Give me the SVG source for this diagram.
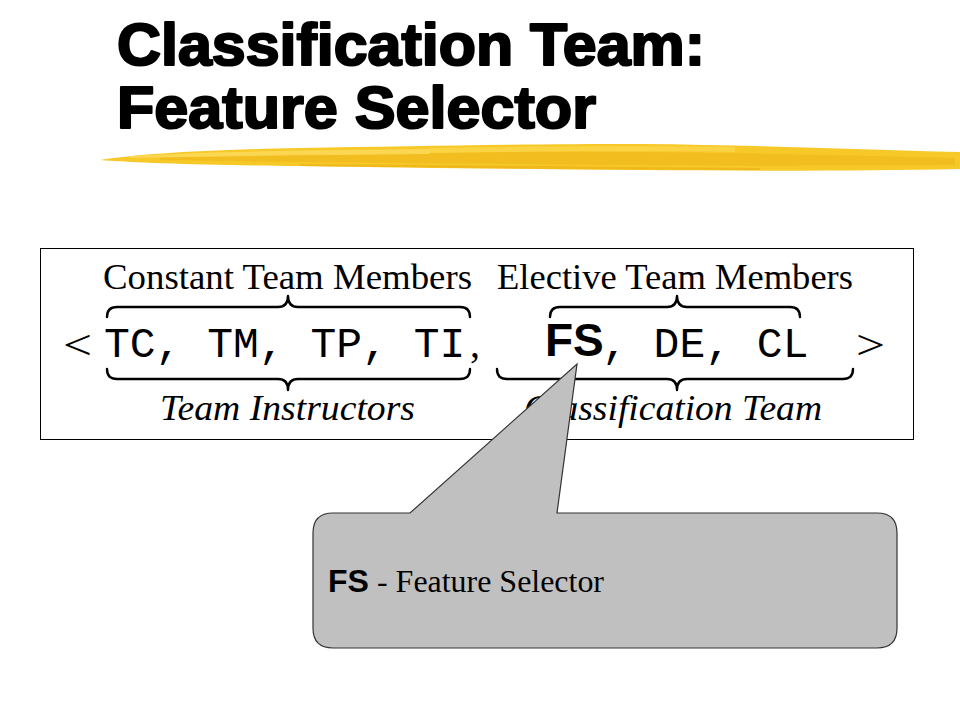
<svg xmlns="http://www.w3.org/2000/svg" width="960" height="720" viewBox="0 0 960 720">
<style>
.title{font-family:"Liberation Sans",Arial,sans-serif;font-weight:bold;font-size:59px;fill:#000;stroke:#000;stroke-width:2.2;stroke-linejoin:round}
.serif{font-family:"Liberation Serif","Times New Roman",serif;fill:#000}
.mono{font-family:"Liberation Mono","Courier New",monospace;fill:#000}
.sans{font-family:"Liberation Sans",Arial,sans-serif;font-weight:bold;fill:#000}
.brace{fill:none;stroke:#000;stroke-width:2.4;stroke-linecap:round;stroke-linejoin:round}
</style>
<rect width="960" height="720" fill="#fff"/>
<g id="title">
<text class="title" x="117" y="65" textLength="588" lengthAdjust="spacingAndGlyphs">Classification Team:</text>
<text class="title" x="117" y="128" textLength="479" lengthAdjust="spacingAndGlyphs">Feature Selector</text>
</g>
<g id="brush">
<path d="M100,160 C140,154 200,150 300,148 C420,146 520,144 640,144 C760,145 860,150 960,152 L960,169 C860,171 760,171 640,170 C520,169 420,168 300,166 C200,165 140,163 100,160 Z" fill="#f7c928"/>
<path d="M160,157 C260,154 400,153 520,152 C640,151 800,154 955,158 L955,165 C800,166 640,166 520,164 C400,163 260,162 160,160 Z" fill="#efb81a" opacity="0.7"/>
<path d="M130,156 C220,151 330,150 430,149 L430,154 C330,155 220,156 130,158 Z" fill="#fbdb5c" opacity="0.8"/>
<path d="M430,148 C560,146 650,146 735,147 L735,152 C650,151 560,151 430,153 Z" fill="#fbd64a" opacity="0.8"/>
<path d="M300,164 C450,165 600,167 760,168 L760,170 C600,170 450,168 300,166 Z" fill="#e9ad12" opacity="0.6"/>
</g>
<g id="formula">
<rect x="40.5" y="248.5" width="873" height="191" fill="#fff" stroke="#000" stroke-width="1"/>
<text class="serif" x="103" y="289" font-size="36" textLength="369" lengthAdjust="spacingAndGlyphs">Constant Team Members</text>
<text class="serif" x="497" y="289" font-size="36" textLength="356" lengthAdjust="spacingAndGlyphs">Elective Team Members</text>
<path class="brace" d="M107,317 Q107,307 117,307 H278 Q288,307 288,296 Q288,307 298,307 H460 Q470,307 470,317"/>
<path class="brace" d="M550,317 Q550,307 560,307 H667 Q677,307 677,296 Q677,307 687,307 H790 Q800,307 800,317"/>
<text class="serif" x="63" y="359" font-size="42" textLength="29" lengthAdjust="spacingAndGlyphs">&lt;</text>
<text class="mono" x="104" y="357" font-size="43">TC, TM, TP, TI</text>
<text class="serif" x="470" y="357" font-size="40">,</text>
<text class="sans" x="545" y="356" font-size="46">FS</text>
<text class="mono" x="602" y="357" font-size="43">, DE, CL</text>
<text class="serif" x="856" y="359" font-size="42" textLength="29" lengthAdjust="spacingAndGlyphs">&gt;</text>
<path class="brace" d="M107,369 Q107,379 117,379 H278 Q288,379 288,390 Q288,379 298,379 H460 Q470,379 470,369"/>
<path class="brace" d="M497,369 Q497,379 507,379 H667 Q677,379 677,390 Q677,379 687,379 H843 Q853,379 853,369"/>
<text class="serif" x="160" y="420" font-size="36" font-style="italic" textLength="255" lengthAdjust="spacingAndGlyphs">Team Instructors</text>
<text class="serif" x="524" y="420" font-size="36" font-style="italic" textLength="298" lengthAdjust="spacingAndGlyphs">Classification Team</text>
</g>
<g id="callout">
<path d="M333,513 H410 L577,364 L557,513 H877 Q897,513 897,533 V628 Q897,648 877,648 H333 Q313,648 313,628 V533 Q313,513 333,513 Z" fill="#c0c0c0" stroke="#333" stroke-width="1.2"/>
<text class="sans" x="328" y="592" font-size="32">FS</text>
<text class="serif" x="377" y="592" font-size="32" textLength="227" lengthAdjust="spacingAndGlyphs">- Feature Selector</text>
</g>
</svg>
